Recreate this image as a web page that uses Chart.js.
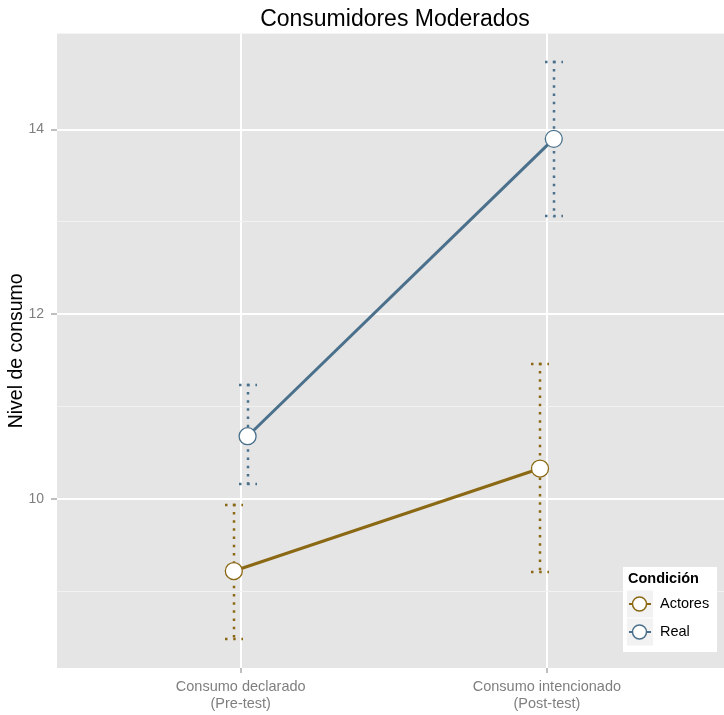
<!DOCTYPE html>
<html>
<head>
<meta charset="utf-8">
<script src="https://cdn.jsdelivr.net/npm/chart.js@4.4.1/dist/chart.umd.min.js"></script>
<style>
  html, body { margin: 0; padding: 0; overflow: hidden; background: #ffffff; }
  canvas { display: block; }
</style>
</head>
<body>
<canvas id="chart" width="790" height="715"></canvas>
<script>
// Categories (two-line axis labels) and series
const categories = [["Consumo declarado", "(Pre-test)"], ["Consumo intencionado", "(Post-test)"]];
const seriesNames = ["Actores", "Real"];

// Means and error-bar limits per category
const actoresMean  = [9.22, 10.33];
const actoresLower = [8.48, 9.21];
const actoresUpper = [9.94, 11.46];
const realMean  = [10.68, 13.90];
const realLower = [10.16, 13.07];
const realUpper = [11.23, 14.73];

// Labelled (major) y ticks; odd values get minor grid lines
const yTickLabels = [10, 12, 14];

const FONT = '"Liberation Sans", Arial, Helvetica, sans-serif';
const colActores = '#8B6914';
const colReal = '#4A708B';
const dodge = 0.0225;      // horizontal separation of the two groups
const capHalf = 9;         // half width of error-bar caps, px

Chart.defaults.font.family = FONT;

function points(means, shift) {
  return means.map((m, i) => ({ x: i + 1 + shift, y: m }));
}

// Grey panel behind the grid
const panelBg = {
  id: 'panelBg',
  beforeDraw(chart) {
    const { ctx, chartArea: a } = chart;
    ctx.save();
    ctx.fillStyle = '#E5E5E5';
    ctx.fillRect(a.left, a.top, a.right - a.left, a.bottom - a.top);
    ctx.restore();
  }
};

// Dotted error bars with dotted caps
const errorBars = {
  id: 'errorBars',
  beforeDatasetsDraw(chart) {
    const { ctx, chartArea: a, scales: { x, y } } = chart;
    ctx.save();
    ctx.beginPath();
    ctx.rect(a.left, a.top, a.right - a.left, a.bottom - a.top);
    ctx.clip();
    chart.data.datasets.forEach(ds => {
      ctx.strokeStyle = ds.borderColor;
      ctx.lineWidth = 2.5;
      ctx.lineCap = 'butt';
      ctx.setLineDash([2.5, 5.7]);
      ds.data.forEach((pt, i) => {
        const px = Math.round(x.getPixelForValue(pt.x));
        const top = Math.round(y.getPixelForValue(ds.upper[i]));
        const bot = Math.round(y.getPixelForValue(ds.lower[i]));
        ctx.beginPath();
        ctx.moveTo(px, top - 1.25);
        ctx.lineTo(px, bot + 1.25);
        ctx.stroke();
        [top, bot].forEach(yy => {
          ctx.beginPath();
          ctx.moveTo(px - capHalf, yy);
          ctx.lineTo(px + capHalf, yy);
          ctx.stroke();
        });
      });
    });
    ctx.restore();
  }
};

// Legend box inside the panel, lower right
const legendBox = {
  id: 'legendBox',
  afterDraw(chart) {
    const { ctx } = chart;
    ctx.save();
    ctx.fillStyle = '#ffffff';
    ctx.fillRect(623, 567, 94, 85);
    ctx.fillStyle = '#000000';
    ctx.textBaseline = 'middle';
    ctx.textAlign = 'left';
    ctx.font = 'bold 14.5px ' + FONT;
    ctx.fillText('Condición', 628, 579);
    chart.data.datasets.forEach((ds, i) => {
      const cy = 604 + i * 28;
      const kx = 627;
      ctx.fillStyle = '#F2F2F2';
      ctx.fillRect(kx, cy - 13.5, 26, 27);
      ctx.strokeStyle = ds.borderColor;
      ctx.lineWidth = 2;
      ctx.beginPath();
      ctx.moveTo(kx + 2, cy);
      ctx.lineTo(kx + 24, cy);
      ctx.stroke();
      ctx.beginPath();
      ctx.arc(kx + 12.5, cy, 7, 0, Math.PI * 2);
      ctx.fillStyle = '#ffffff';
      ctx.fill();
      ctx.lineWidth = 1.5;
      ctx.stroke();
      ctx.fillStyle = '#000000';
      ctx.font = '14.5px ' + FONT;
      ctx.fillText(ds.label, 660, cy);
    });
    ctx.restore();
  }
};

function seriesDataset(label, color, means, lower, upper, shift) {
  return {
    label: label,
    data: points(means, shift),
    lower: lower,
    upper: upper,
    borderColor: color,
    backgroundColor: color,
    borderWidth: 3,
    tension: 0,
    fill: false,
    pointRadius: 8.5,
    pointHoverRadius: 8.5,
    pointBackgroundColor: '#ffffff',
    pointBorderColor: color,
    pointBorderWidth: 1.3
  };
}

new Chart(document.getElementById('chart').getContext('2d'), {
  type: 'line',
  data: {
    datasets: [
      seriesDataset(seriesNames[0], colActores, actoresMean, actoresLower, actoresUpper, -dodge),
      seriesDataset(seriesNames[1], colReal, realMean, realLower, realUpper, dodge)
    ]
  },
  options: {
    responsive: false,
    animation: false,
    events: [],
    layout: { padding: 0 },
    plugins: {
      legend: { display: false },
      tooltip: { enabled: false },
      title: {
        display: true,
        text: 'Consumidores Moderados',
        color: '#000000',
        font: { size: 23, weight: 'normal', lineHeight: 1.2 },
        padding: { top: 6, bottom: 0 }
      }
    },
    scales: {
      x: {
        type: 'linear',
        min: 0.4,
        max: 2.762,
        afterBuildTicks: s => { s.ticks = categories.map((c, i) => ({ value: i + 1 })); },
        afterFit: s => { s.height = 47; },
        ticks: {
          callback: v => categories[Math.round(v) - 1],
          color: '#7F7F7F',
          font: { size: 14.5, lineHeight: 1.17 },
          padding: 6,
          maxRotation: 0,
          autoSkip: false
        },
        grid: { color: '#ffffff', lineWidth: 2, tickLength: 5, tickColor: '#7F7F7F', tickWidth: 1 },
        border: { display: false }
      },
      y: {
        min: 8.17,
        max: 15.04,
        afterBuildTicks: s => { s.ticks = s.ticks.filter(t => Number.isInteger(t.value)); },
        afterFit: s => { s.width = 57; },
        ticks: {
          stepSize: 1,
          callback: v => (yTickLabels.includes(v) ? String(v) : ''),
          color: '#7F7F7F',
          font: { size: 14 },
          padding: 7
        },
        grid: {
          color: c => (yTickLabels.includes(c.tick.value) ? '#ffffff' : '#F2F2F2'),
          lineWidth: c => (yTickLabels.includes(c.tick.value) ? 2 : 1),
          tickLength: 6,
          tickWidth: 1,
          tickColor: c => (yTickLabels.includes(c.tick.value) ? '#7F7F7F' : 'rgba(0,0,0,0)')
        },
        border: { display: false },
        title: {
          display: true,
          text: 'Nivel de consumo',
          color: '#000000',
          font: { size: 19.5, lineHeight: 1.2 },
          padding: { top: 5, bottom: 0 }
        }
      }
    }
  },
  plugins: [panelBg, errorBars, legendBox]
});
</script>
</body>
</html>
